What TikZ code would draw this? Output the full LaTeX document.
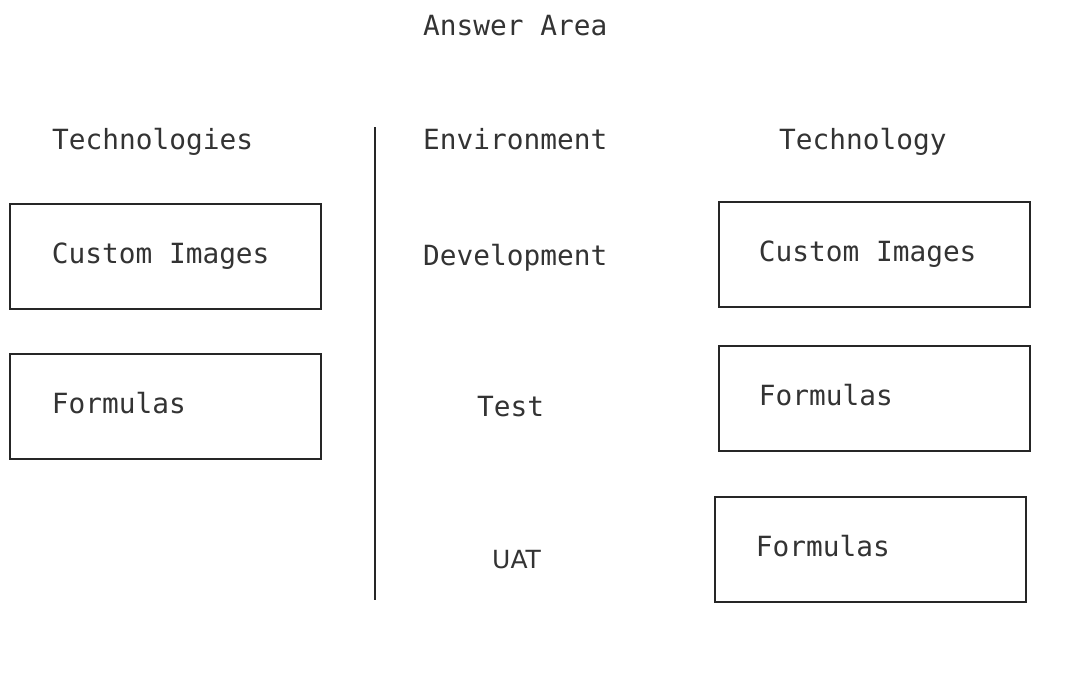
\documentclass[tikz,border=0pt]{standalone}
\usepackage{fontspec}
\newfontfamily\monofont[WordSpace={1,0,0}]{DejaVu Sans Mono}
\newfontfamily\plainsans{DejaVu Sans}
\usetikzlibrary{positioning}

\tikzset{
  label text/.style={anchor=base west,inner sep=0pt,text=black!80,font=\monofont\fontsize{27.8}{32}\selectfont},
  answer box/.style={draw=black!85,line width=1.8pt,anchor=north west,minimum width=311pt,minimum height=105pt,
    inner xsep=42pt,text width=227pt,text height=20pt,text depth=6pt,
    text=black!80,font=\monofont\fontsize{27.8}{32}\selectfont}
}

\begin{document}
\begin{tikzpicture}[x=1pt,y=-1pt]
\useasboundingbox (0,0) rectangle (1083,672);
% headings
\node[label text] (answerarea) at (423,35) {Answer Area};
\node[label text] (techs) at (52,149) {Technologies};
\node[label text] (envhead) at (423,149) {Environment};
\node[label text] (techhead) at (779,149) {Technology};
% divider
\draw[line width=1.8pt,black!85] (375,127) -- (375,600);
% left column
\node[answer box] (leftimages) at (9,203) {\spaceskip=0pt Custom Images};
\node[answer box] (leftformulas) at (9,353) {Formulas};
% environments
\node[label text] (devenv) at (423,265) {Development};
\node[label text] (testenv) at (477,416) {Test};
\node[label text,font=\plainsans\fontsize{25}{30}\selectfont] (uatenv) at (492,568) {UAT};
% right column
\node[answer box,inner xsep=40pt,text width=231pt] (devtech) at (718,201) {\spaceskip=0pt Custom Images};
\node[answer box,inner xsep=40pt,text width=231pt] (testtech) at (718,345) {Formulas};
\node[answer box,inner xsep=41pt,text width=229pt,minimum width=310pt] (uattech) at (714,496) {Formulas};
\end{tikzpicture}
\end{document}
